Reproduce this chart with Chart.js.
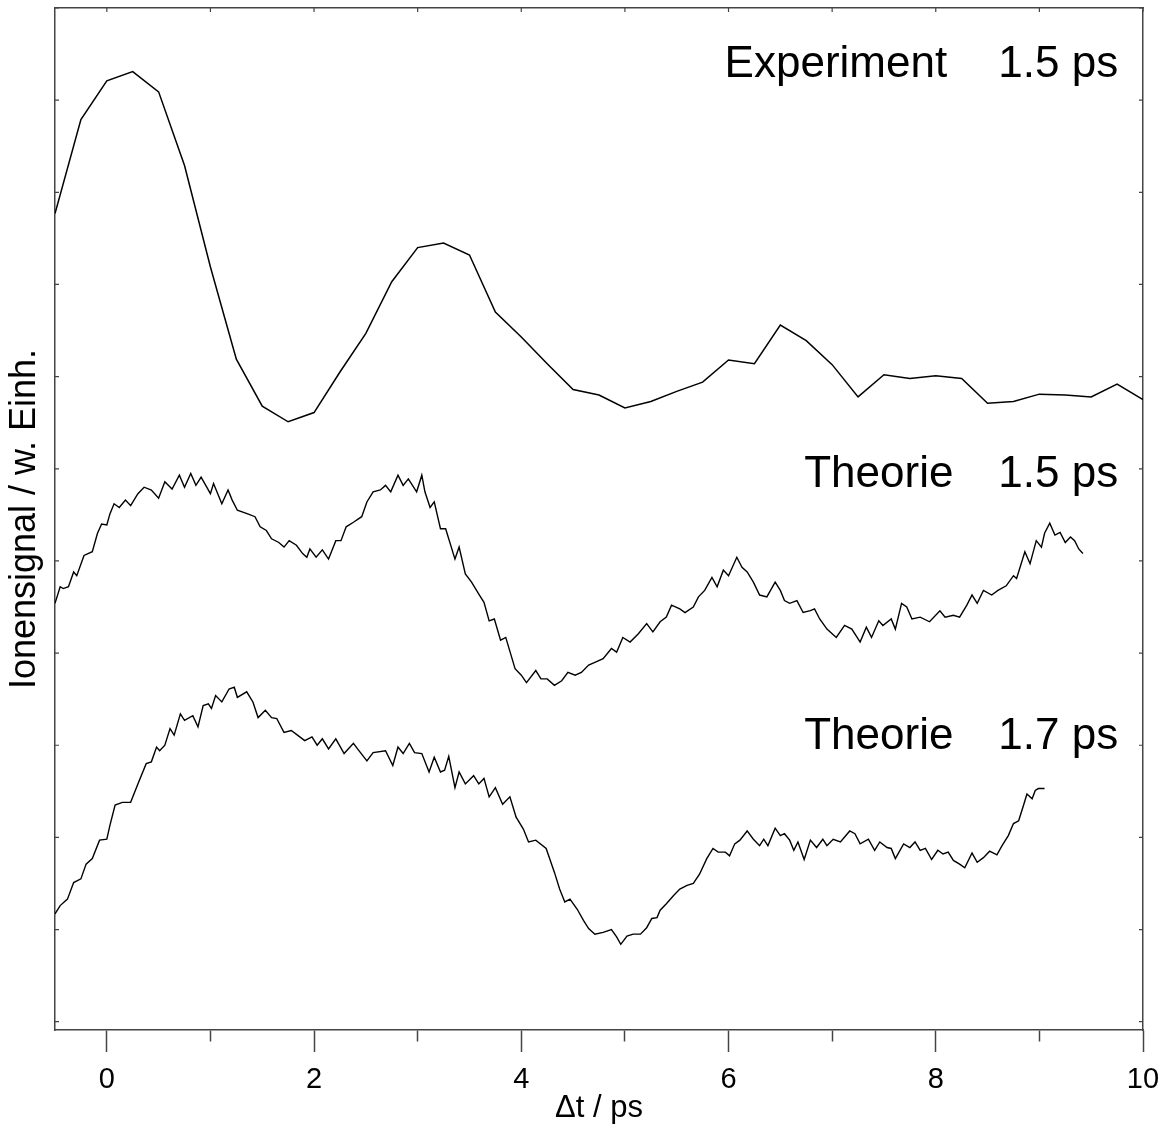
<!DOCTYPE html>
<html lang="de">
<head>
<meta charset="UTF-8">
<title>Ionensignal Experiment / Theorie</title>
<script src="https://cdn.jsdelivr.net/npm/chart.js"></script>
<style>
  body { margin: 0; background: #fff; }
  #chart-container { width: 1173px; height: 1130px; }
</style>
</head>
<body>
<div id="chart-container"><canvas id="ionChart"></canvas></div>
<script>
// Experiment, 0.25 ps Raster
const expT = [-0.5, -0.25, 0, 0.25, 0.5, 0.75, 1, 1.25, 1.5, 1.75, 2, 2.25, 2.5, 2.75, 3, 3.25, 3.5, 3.75, 4, 4.25,
  4.5, 4.75, 5, 5.25, 5.5, 5.75, 6, 6.25, 6.5, 6.75, 7, 7.25, 7.5, 7.75, 8, 8.25, 8.5, 8.75, 9, 9.25, 9.5, 9.75, 10];
const expV = [8.77, 9.79, 10.21, 10.31, 10.09, 9.29, 8.19, 7.19, 6.68, 6.51, 6.61, 7.05, 7.47, 8.03, 8.40, 8.45, 8.32, 7.70, 7.43, 7.14,
  6.86, 6.80, 6.66, 6.73, 6.84, 6.94, 7.18, 7.14, 7.56, 7.39, 7.13, 6.78, 7.02, 6.98, 7.01, 6.98, 6.71, 6.73, 6.81, 6.80, 6.78, 6.92, 6.75];

// Theorie 1.5 ps
const th15T = [-0.50, -0.45, -0.42, -0.37, -0.32, -0.29, -0.22, -0.14, -0.09, -0.05, 0.00, 0.03, 0.07, 0.12, 0.18, 0.23, 0.30, 0.36, 0.43, 0.50,
  0.56, 0.63, 0.70, 0.75, 0.81, 0.86, 0.91, 1.00, 1.03, 1.11, 1.17, 1.21, 1.26, 1.36, 1.43, 1.48, 1.54, 1.59, 1.66, 1.71,
  1.76, 1.83, 1.89, 1.93, 1.96, 2.02, 2.08, 2.14, 2.21, 2.26, 2.31, 2.38, 2.46, 2.51, 2.57, 2.64, 2.69, 2.74, 2.81, 2.86,
  2.91, 2.99, 3.04, 3.07, 3.12, 3.16, 3.22, 3.27, 3.36, 3.40, 3.46, 3.52, 3.59, 3.64, 3.69, 3.74, 3.80, 3.85, 3.94, 4.00,
  4.05, 4.14, 4.19, 4.25, 4.32, 4.39, 4.45, 4.52, 4.58, 4.65, 4.71, 4.79, 4.87, 4.92, 4.98, 5.05, 5.13, 5.21, 5.27, 5.34,
  5.40, 5.45, 5.53, 5.58, 5.66, 5.71, 5.77, 5.84, 5.89, 5.95, 6.00, 6.08, 6.13, 6.18, 6.24, 6.30, 6.37, 6.45, 6.50, 6.54,
  6.59, 6.66, 6.72, 6.79, 6.83, 6.88, 6.95, 7.04, 7.12, 7.19, 7.27, 7.33, 7.38, 7.45, 7.49, 7.57, 7.61, 7.67, 7.72, 7.77,
  7.85, 7.94, 8.04, 8.09, 8.17, 8.23, 8.30, 8.35, 8.40, 8.46, 8.54, 8.60, 8.68, 8.75, 8.78, 8.86, 8.91, 8.97, 9.02, 9.05,
  9.10, 9.15, 9.20, 9.25, 9.30, 9.34, 9.38, 9.42];
const th15V = [4.54, 4.72, 4.70, 4.72, 4.88, 4.84, 5.06, 5.10, 5.30, 5.40, 5.39, 5.51, 5.62, 5.58, 5.66, 5.60, 5.73, 5.80, 5.77, 5.68,
  5.86, 5.78, 5.93, 5.80, 5.95, 5.82, 5.91, 5.73, 5.84, 5.62, 5.77, 5.66, 5.55, 5.51, 5.48, 5.37, 5.33, 5.24, 5.20, 5.15,
  5.22, 5.17, 5.08, 5.04, 5.13, 5.04, 5.12, 5.02, 5.22, 5.22, 5.37, 5.42, 5.48, 5.64, 5.75, 5.77, 5.82, 5.75, 5.93, 5.82,
  5.89, 5.75, 5.93, 5.75, 5.58, 5.64, 5.35, 5.35, 5.02, 5.15, 4.86, 4.77, 4.64, 4.55, 4.35, 4.37, 4.14, 4.17, 3.83, 3.76,
  3.68, 3.81, 3.72, 3.72, 3.65, 3.70, 3.79, 3.76, 3.79, 3.87, 3.90, 3.94, 4.05, 4.01, 4.17, 4.12, 4.21, 4.32, 4.23, 4.34,
  4.39, 4.52, 4.48, 4.44, 4.50, 4.61, 4.68, 4.82, 4.72, 4.90, 4.84, 5.04, 4.93, 4.88, 4.77, 4.63, 4.61, 4.77, 4.68, 4.57,
  4.54, 4.57, 4.44, 4.46, 4.48, 4.37, 4.26, 4.17, 4.30, 4.26, 4.12, 4.28, 4.17, 4.35, 4.30, 4.37, 4.26, 4.54, 4.50, 4.37,
  4.39, 4.34, 4.46, 4.39, 4.41, 4.39, 4.52, 4.63, 4.54, 4.68, 4.63, 4.68, 4.73, 4.84, 4.81, 5.10, 4.97, 5.22, 5.15, 5.30,
  5.41, 5.28, 5.31, 5.20, 5.26, 5.22, 5.13, 5.08];

// Theorie 1.7 ps
const th17T = [-0.50, -0.45, -0.38, -0.32, -0.25, -0.20, -0.14, -0.07, 0.00, 0.03, 0.08, 0.15, 0.23, 0.30, 0.38, 0.43, 0.48, 0.51, 0.56, 0.61,
  0.65, 0.71, 0.75, 0.83, 0.88, 0.93, 0.98, 1.01, 1.05, 1.11, 1.18, 1.23, 1.26, 1.35, 1.41, 1.46, 1.53, 1.59, 1.64, 1.71,
  1.78, 1.84, 1.91, 1.98, 2.03, 2.08, 2.14, 2.21, 2.29, 2.38, 2.42, 2.51, 2.57, 2.69, 2.76, 2.81, 2.86, 2.92, 2.97, 3.04,
  3.11, 3.16, 3.22, 3.26, 3.30, 3.36, 3.40, 3.46, 3.54, 3.59, 3.64, 3.69, 3.75, 3.82, 3.89, 3.95, 4.02, 4.07, 4.14, 4.24,
  4.32, 4.37, 4.42, 4.47, 4.54, 4.60, 4.65, 4.71, 4.79, 4.87, 4.92, 4.96, 5.02, 5.08, 5.15, 5.21, 5.26, 5.31, 5.34, 5.40,
  5.47, 5.53, 5.60, 5.66, 5.72, 5.79, 5.85, 5.90, 5.97, 6.01, 6.06, 6.11, 6.18, 6.24, 6.30, 6.34, 6.38, 6.45, 6.50, 6.54,
  6.59, 6.63, 6.67, 6.73, 6.79, 6.85, 6.91, 6.95, 7.01, 7.08, 7.17, 7.22, 7.27, 7.35, 7.41, 7.46, 7.53, 7.57, 7.61, 7.69,
  7.75, 7.80, 7.85, 7.90, 7.96, 8.02, 8.07, 8.12, 8.17, 8.23, 8.28, 8.35, 8.40, 8.46, 8.52, 8.59, 8.64, 8.70, 8.75, 8.80,
  8.85, 8.88, 8.93, 8.96, 8.99, 9.05];
const th17V = [1.17, 1.26, 1.33, 1.51, 1.55, 1.71, 1.77, 1.97, 1.98, 2.13, 2.35, 2.38, 2.38, 2.58, 2.80, 2.82, 2.98, 2.94, 3.00, 3.18,
  3.11, 3.34, 3.27, 3.32, 3.20, 3.43, 3.45, 3.40, 3.54, 3.47, 3.61, 3.63, 3.52, 3.58, 3.47, 3.30, 3.38, 3.30, 3.29, 3.14,
  3.16, 3.11, 3.05, 3.09, 3.00, 3.07, 2.96, 3.07, 2.91, 3.02, 2.96, 2.83, 2.92, 2.94, 2.78, 2.98, 2.91, 3.02, 2.92, 2.91,
  2.71, 2.87, 2.71, 2.73, 2.88, 2.54, 2.71, 2.58, 2.67, 2.58, 2.64, 2.44, 2.54, 2.36, 2.44, 2.22, 2.09, 1.95, 1.97, 1.88,
  1.62, 1.44, 1.30, 1.33, 1.22, 1.10, 1.01, 0.95, 0.97, 1.00, 0.92, 0.84, 0.93, 0.95, 0.95, 1.02, 1.12, 1.13, 1.21, 1.28,
  1.37, 1.44, 1.48, 1.50, 1.60, 1.77, 1.88, 1.84, 1.84, 1.80, 1.93, 1.97, 2.07, 1.98, 1.91, 1.98, 1.91, 2.10, 2.02, 2.04,
  1.97, 1.86, 1.95, 1.76, 1.97, 1.89, 1.98, 1.91, 1.98, 1.95, 2.07, 2.04, 1.93, 1.98, 1.86, 1.95, 1.89, 1.88, 1.77, 1.93,
  1.89, 1.95, 1.86, 1.88, 1.76, 1.86, 1.82, 1.84, 1.75, 1.71, 1.67, 1.83, 1.73, 1.78, 1.85, 1.81, 1.91, 2.02, 2.15, 2.18,
  2.36, 2.47, 2.42, 2.51, 2.53, 2.53];

// Beschriftungen der Kurven (rechtsbündig, Datenkoordinaten)
const labelText = ['Experiment', '1.5 ps', 'Theorie', '1.5 ps', 'Theorie', '1.7 ps'];
const labelX = [8.11, 9.76, 8.17, 9.76, 8.17, 9.76];
const labelY = [10.25, 10.25, 5.80, 5.80, 2.96, 2.96];

const FONT = '"Liberation Sans", Arial, sans-serif';
const AXIS = '#444';

function toPoints(xs, ys) {
    return xs.map((x, i) => ({ x: x, y: ys[i] }));
}

// short inward ticks on the frame (top, left, right)
const frameTicks = {
    id: 'frameTicks',
    afterDatasetsDraw(chart) {
        const { ctx, chartArea: a, scales: { x, y } } = chart;
        ctx.save();
        ctx.strokeStyle = AXIS;
        ctx.lineWidth = 1.2;
        ctx.beginPath();
        x.ticks.forEach(t => {
            const px = x.getPixelForValue(t.value);
            ctx.moveTo(px, a.top);
            ctx.lineTo(px, a.top + 4);
        });
        y.ticks.forEach(t => {
            const py = y.getPixelForValue(t.value);
            ctx.moveTo(a.left, py);
            ctx.lineTo(a.left + 4, py);
            ctx.moveTo(a.right, py);
            ctx.lineTo(a.right - 4, py);
        });
        ctx.stroke();
        ctx.restore();
    }
};

const curveLabels = {
    id: 'curveLabels',
    afterDraw(chart) {
        const { ctx, scales: { x, y } } = chart;
        ctx.save();
        ctx.font = '44px ' + FONT;
        ctx.fillStyle = '#000';
        ctx.textAlign = 'right';
        ctx.textBaseline = 'alphabetic';
        labelText.forEach((s, i) => {
            ctx.fillText(s, x.getPixelForValue(labelX[i]), y.getPixelForValue(labelY[i]));
        });
        ctx.restore();
    }
};

const lineStyle = {
    borderColor: '#000',
    borderWidth: 1.5,
    pointRadius: 0,
    showLine: true,
    tension: 0,
    fill: false
};

const ctx = document.getElementById('ionChart').getContext('2d');

new Chart(ctx, {
    type: 'scatter',
    data: {
        datasets: [
            { ...lineStyle, label: 'Experiment 1.5 ps', data: toPoints(expT, expV) },
            { ...lineStyle, label: 'Theorie 1.5 ps', borderWidth: 1.4, data: toPoints(th15T, th15V) },
            { ...lineStyle, label: 'Theorie 1.7 ps', borderWidth: 1.4, data: toPoints(th17T, th17V) }
        ]
    },
    options: {
        responsive: true,
        maintainAspectRatio: false,
        animation: false,
        layout: { padding: { top: 8, right: 30, left: 0, bottom: 0 } },
        plugins: {
            legend: { display: false },
            tooltip: { enabled: false }
        },
        scales: {
            x: {
                type: 'linear',
                position: 'bottom',
                min: -0.5,
                max: 10,
                ticks: {
                    stepSize: 1,
                    autoSkip: false,
                    maxRotation: 0,
                    includeBounds: false,
                    padding: 13.5,
                    color: '#000',
                    font: { family: FONT, size: 29, lineHeight: 1 },
                    callback: v => (v % 2 === 0 ? v : '')
                },
                grid: {
                    drawOnChartArea: false,
                    tickLength: 22,
                    tickColor: AXIS,
                    tickWidth: 1.5,
                    // odd values get the short (minor) tick
                    tickBorderDash: c => (c.tick && c.tick.value % 2 !== 0 ? [11, 40] : [])
                },
                border: { color: AXIS, width: 1.5 },
                title: {
                    display: true,
                    text: 'Δt / ps',
                    color: '#000',
                    font: { family: FONT, size: 31, lineHeight: 0 },
                    padding: { top: 0, bottom: 22 }
                }
            },
            y: {
                type: 'linear',
                min: -0.09,
                max: 11,
                ticks: { display: false, stepSize: 1, includeBounds: false },
                grid: { drawOnChartArea: false, drawTicks: false },
                border: { color: AXIS, width: 1.5 },
                title: {
                    display: true,
                    text: 'Ionensignal / w. Einh.',
                    color: '#000',
                    font: { family: FONT, size: 36 },
                    padding: { top: 3.4, bottom: 8.4 }
                }
            },
            xTop: {
                type: 'linear',
                position: 'top',
                min: -0.5,
                max: 10,
                ticks: { display: false },
                grid: { drawOnChartArea: false, drawTicks: false },
                border: { color: AXIS, width: 1.5 }
            },
            yRight: {
                type: 'linear',
                position: 'right',
                min: -0.09,
                max: 11,
                ticks: { display: false },
                grid: { drawOnChartArea: false, drawTicks: false },
                border: { color: AXIS, width: 1.5 }
            }
        }
    },
    plugins: [frameTicks, curveLabels]
});
</script>
</body>
</html>
